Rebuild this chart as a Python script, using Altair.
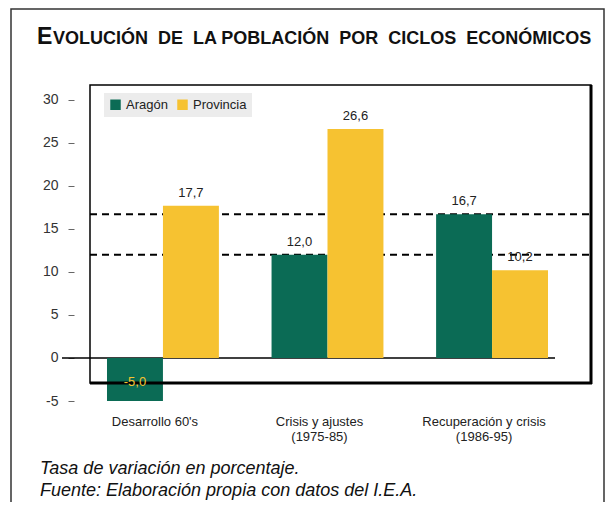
import altair as alt
import pandas as pd

# ---- data ----
categorias = ["Desarrollo 60's", "Crisis y ajustes (1975-85)", "Recuperación y crisis (1986-95)"]
series = ["Aragón", "Provincia"]
aragon = [-5.0, 12.0, 16.7]
provincia = [17.7, 26.6, 10.2]
lineas_ref = [16.7, 12.0]
y_ticks = [-5, 0, 5, 10, 15, 20, 25, 30]
titulo_inicial = "E"
titulo_resto = "VOLUCIÓN\u00a0 DE\u00a0 LA POBLACIÓN\u00a0 POR\u00a0 CICLOS\u00a0 ECONÓMICOS"
nota_1 = "Tasa de variación en porcentaje."
nota_2 = "Fuente: Elaboración propia con datos del I.E.A."

colores = ["#0b6b55", "#f6c231"]
FONT = "Liberation Sans"

rows = []
for c, a, p in zip(categorias, aragon, provincia):
    rows.append({"cat": c, "serie": series[0], "valor": a})
    rows.append({"cat": c, "serie": series[1], "valor": p})
df = pd.DataFrame(rows)
one = pd.DataFrame({"k": [0]})
ref_df = pd.DataFrame({"v": lineas_ref})

label_expr = ("indexof(datum.label,'(')>0 ? [substring(datum.label,0,indexof(datum.label,'(')-1),"
              " substring(datum.label,indexof(datum.label,'('))] : datum.label")

x_enc = alt.X("cat:N", sort=categorias,
              scale=alt.Scale(paddingInner=0.32, paddingOuter=0.158),
              axis=alt.Axis(title=None, labelAngle=0, domain=False, ticks=False,
                            labelPadding=14, labelFontSize=13, labelColor="#222",
                            labelFont=FONT, labelOffset=-8, labelExpr=label_expr,
                            labelLineHeight=15))
xoff = alt.XOffset("serie:N", sort=series, scale=alt.Scale(paddingInner=0, paddingOuter=0))
y_enc = alt.Y("valor:Q", scale=alt.Scale(domain=[-5, 31.6], nice=False, zero=False),
              axis=alt.Axis(title=None, values=y_ticks, grid=False, domain=False,
                            offset=7, tickSize=6, tickColor="#666", labelPadding=10,
                            labelFontSize=14, labelColor="#333", labelFont=FONT,
                            labelExpr="replace(datum.label, '−', '-')"))

# outer frame
outer = alt.Chart(one).mark_rect(fill="transparent", stroke="#333", strokeWidth=1.5).encode(
    x=alt.value(-70), x2=alt.value(523), y=alt.value(-77), y2=alt.value(440))

# inner plot frame
frame = alt.Chart(one).mark_rect(fill="white", stroke="black", strokeWidth=1.5).encode(
    x=alt.value(9), x2=alt.value(510), y=alt.value(-1), y2=alt.value(297))
frame_r = alt.Chart(one).mark_rule(color="black", strokeWidth=3).encode(
    x=alt.value(510), y=alt.value(-1), y2=alt.value(298))
frame_b = alt.Chart(one).mark_rule(color="black", strokeWidth=3).encode(
    x=alt.value(9), x2=alt.value(511), y=alt.value(297))

# dashed reference lines
refs = alt.Chart(ref_df).mark_rule(color="black", strokeWidth=2, strokeDash=[7, 5]).encode(
    y=alt.Y("v:Q"), x=alt.value(9), x2=alt.value(510))

zero = alt.Chart(one).mark_rule(color="black", strokeWidth=1.5).encode(
    y=alt.datum(0), x=alt.value(-19), x2=alt.value(474))

bars = alt.Chart(df).mark_bar().encode(
    x=x_enc, xOffset=xoff, y=y_enc,
    color=alt.Color("serie:N", sort=series, scale=alt.Scale(domain=series, range=colores),
                    legend=alt.Legend(orient="none", legendX=23, legendY=7, direction="horizontal",
                                      title=None, fillColor="#ececec", padding=5,
                                      symbolType="square", symbolSize=110, symbolStrokeWidth=0,
                                      labelFontSize=13, labelFont=FONT, labelColor="#222",
                                      columnPadding=8)))

lab_expr = "replace(replace(format(datum.valor, '.1f'), '.', ','), '−', '-')"
labels_pos = alt.Chart(df).transform_filter("datum.valor >= 0").transform_calculate(
    t=lab_expr).mark_text(baseline="bottom", dy=-6, fontSize=13, font=FONT, color="#222").encode(
    x=alt.X("cat:N", sort=categorias), xOffset=alt.XOffset("serie:N", sort=series),
    y=alt.Y("valor:Q"), text="t:N")
labels_neg = alt.Chart(df).transform_filter("datum.valor < 0").transform_calculate(
    t=lab_expr).mark_text(baseline="bottom", dy=-12, fontSize=13, font=FONT, color="#f6c231").encode(
    x=alt.X("cat:N", sort=categorias), xOffset=alt.XOffset("serie:N", sort=series),
    y=alt.Y("valor:Q"), text="t:N")

t1 = alt.Chart(one).mark_text(align="left", baseline="alphabetic", fontSize=23, fontWeight="bold",
                              font=FONT, color="#111").encode(
    x=alt.value(-44), y=alt.value(-42), text=alt.value(titulo_inicial))
t2 = alt.Chart(one).mark_text(align="left", baseline="alphabetic", fontSize=18, fontWeight="bold",
                              font=FONT, color="#111").encode(
    x=alt.value(-28), y=alt.value(-42), text=alt.value(titulo_resto))
n1 = alt.Chart(one).mark_text(align="left", baseline="alphabetic", fontSize=18, fontStyle="italic",
                              font=FONT, color="#111").encode(
    x=alt.value(-41), y=alt.value(388), text=alt.value(nota_1))
n2 = alt.Chart(one).mark_text(align="left", baseline="alphabetic", fontSize=18, fontStyle="italic",
                              font=FONT, color="#111").encode(
    x=alt.value(-41), y=alt.value(410), text=alt.value(nota_2))

chart = alt.layer(outer, frame, refs, zero, bars, frame_r, frame_b, labels_pos, labels_neg,
                  t1, t2, n1, n2).properties(
    width=493, height=315,
    autosize=alt.AutoSizeParams(type="none"),
    padding={"left": 73, "top": 78, "right": 31, "bottom": 101},
    background="white",
).configure_view(strokeWidth=0)

chart.save("out.html", embed_options={"renderer": "svg", "actions": False})
